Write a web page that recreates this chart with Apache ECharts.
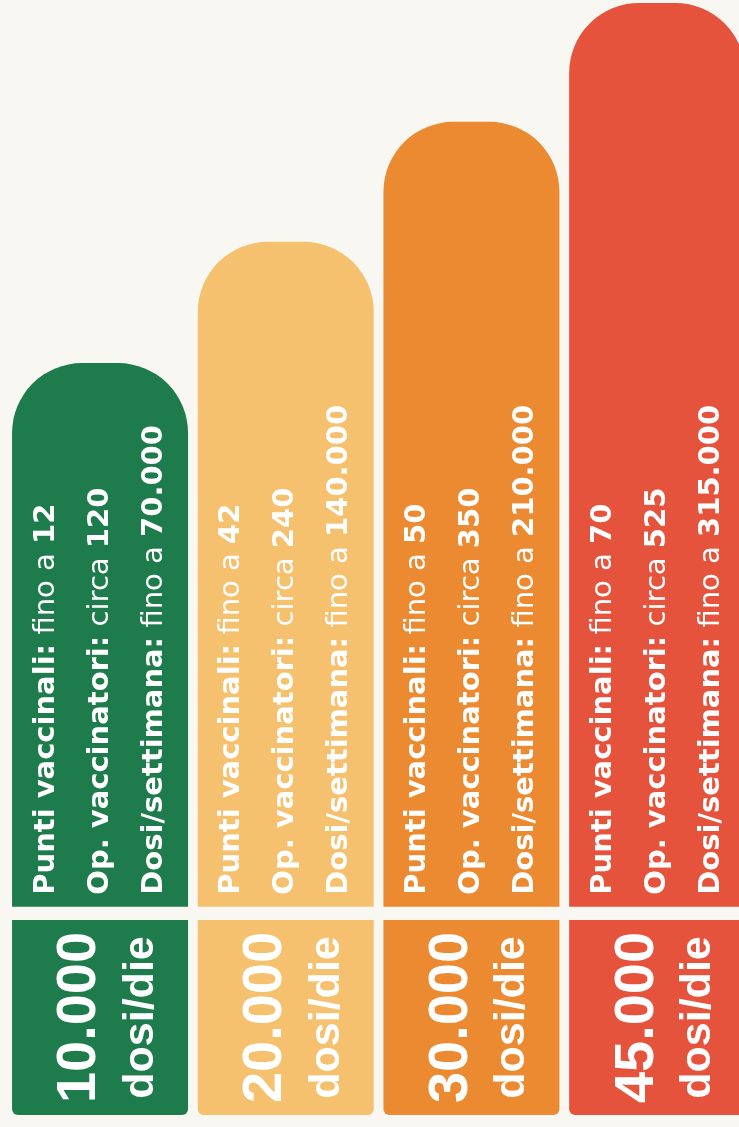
<!DOCTYPE html>
<html>
<head>
<meta charset="utf-8">
<script src="https://cdn.jsdelivr.net/npm/echarts@6/dist/echarts.min.js"></script>
<style>
  html, body { margin: 0; padding: 0; background: #f9f7f2; }
  #chart { width: 739px; height: 1127px; }
</style>
</head>
<body>
<div id="chart"></div>
<script>
const dosiDie = ['10.000', '20.000', '30.000', '45.000'];
const puntiVaccinali = [12, 42, 50, 70];
const opVaccinatori = [120, 240, 350, 525];
const dosiSettimana = ['70.000', '140.000', '210.000', '315.000'];
// altezza relativa delle colonne (a gradini, non proporzionale)
const altezzaColonna = [45.3, 55.4, 65.4, 75.3];

const colori = ['#1e7b4c', '#f6c16e', '#ec8a31', '#e6533c'];
const BASE = 16.25;   // riquadro in basso con dosi/die
const STACCO = 1.1;   // striscia bianca tra i due blocchi

const chart = echarts.init(document.getElementById('chart'));

const font = '"Liberation Sans", Arial, sans-serif';
const fontTesto = '"DejaVu Sans", "Liberation Sans", sans-serif';

chart.setOption({
  backgroundColor: '#f9f7f2',
  animation: false,
  grid: { left: 7.2, width: 742.8, top: 0, bottom: 12, outerBoundsMode: 'none', containLabel: false },
  xAxis: {
    type: 'category',
    data: dosiDie,
    show: false
  },
  yAxis: {
    type: 'value',
    min: 0,
    max: 92.9,
    show: false
  },
  series: [
    {
      name: 'base',
      type: 'bar',
      stack: 'tot',
      barWidth: 176,
      data: dosiDie.map((d, i) => ({
        value: BASE,
        itemStyle: { color: colori[i], borderRadius: [0, 0, 6, 6] }
      })),
      label: {
        show: true,
        position: 'inside',
        rotate: 90,
        align: 'center',
        verticalAlign: 'middle',
        fontFamily: font,
        color: '#fff',
        formatter: p => '{n|' + dosiDie[p.dataIndex] + '}\n{u|dosi/die}',
        rich: {
          n: { fontSize: 56, fontWeight: 'bold', color: '#fff', lineHeight: 82, fontFamily: font },
          u: { fontSize: 43, fontWeight: 'bold', color: '#fff', lineHeight: 40, fontFamily: font }
        }
      }
    },
    {
      name: 'stacco',
      type: 'bar',
      stack: 'tot',
      silent: true,
      data: dosiDie.map(() => STACCO),
      itemStyle: { color: 'rgba(0,0,0,0)' }
    },
    {
      name: 'colonna',
      type: 'bar',
      stack: 'tot',
      data: altezzaColonna.map((v, i) => ({
        value: v,
        itemStyle: { color: colori[i], borderRadius: [70, 70, 0, 0] }
      })),
      label: {
        show: true,
        position: 'insideBottom',
        distance: 12,
        rotate: 90,
        align: 'left',
        verticalAlign: 'middle',
        fontFamily: fontTesto,
        fontSize: 29,
        color: '#fff',
        formatter: p => {
          const i = p.dataIndex;
          return '{b|Punti vaccinali:} {r|fino a} {b|' + puntiVaccinali[i] + '}\n' +
            '{b|Op. vaccinatori:} {r|circa} {b|' + opVaccinatori[i] + '}\n' +
            '{b|Dosi/settimana:} {r|fino a} {b|' + dosiSettimana[i] + '}';
        },
        rich: {
          b: { fontSize: 29, fontWeight: 'bold', color: '#fff', lineHeight: 54, fontFamily: fontTesto },
          r: { fontSize: 29, fontWeight: 'normal', color: '#fff', lineHeight: 54, fontFamily: fontTesto }
        }
      }
    }
  ]
});
</script>
</body>
</html>
